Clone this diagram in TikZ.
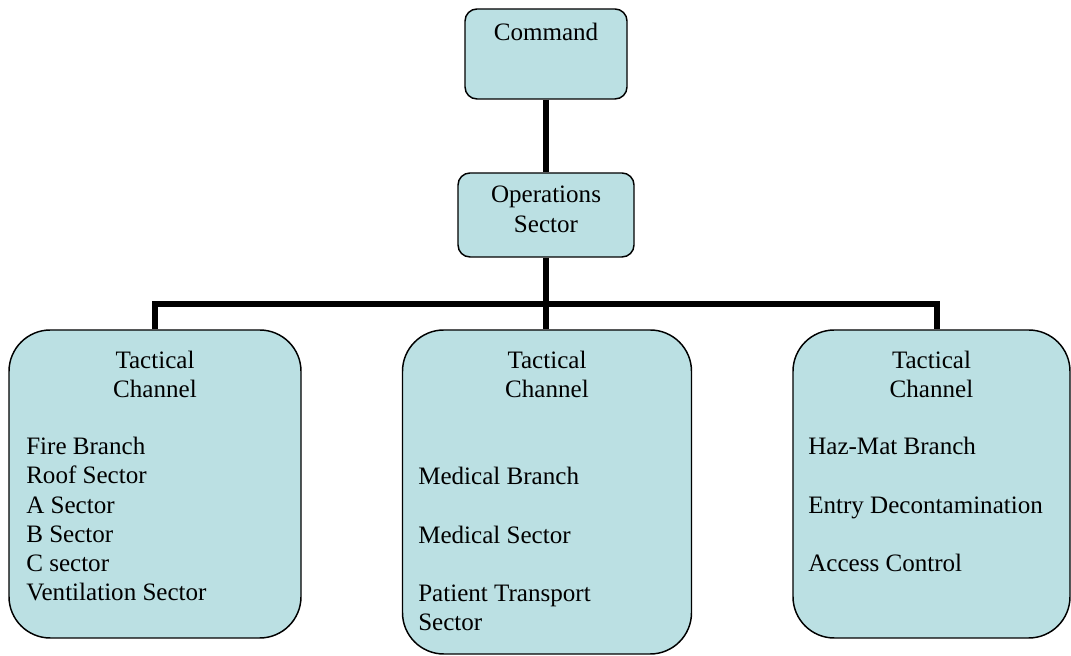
\documentclass[tikz,border=0pt]{standalone}
\usepackage{fontspec}
\setmainfont{Liberation Serif}
\usepackage{tikz}
\usepackage{xcolor}

\definecolor{boxblue}{RGB}{187,224,227}
\tikzset{
  unitbox/.style={draw=black,line width=1.1pt,fill=boxblue,rounded corners=9pt,inner sep=0pt},
  chanbox/.style={draw=black,line width=1.1pt,fill=boxblue,rounded corners=31pt,inner sep=0pt},
  lbl/.style={inner sep=0pt,font=\fontsize{18.8}{21.9}\selectfont},
  bus/.style={line width=4pt}
}

\begin{document}
\begin{tikzpicture}[x=0.75pt,y=0.75pt]
  \useasboundingbox (0,0) rectangle (1071,656);
  % top of the chart
  \node[unitbox,minimum width=121.5pt,minimum height=67.5pt] (cmd) at (546,602) {};
  \node[lbl,anchor=north] (cmdtxt) at (546,633) {Command};
  \node[unitbox,minimum width=132pt,minimum height=63pt] (ops) at (546,441) {};
  \node[lbl,anchor=north,align=center] (opstxt) at (546,470) {Operations\\Sector};
  % channel boxes
  \node[chanbox,minimum width=219pt,minimum height=231pt] (fire) at (155,172) {};
  \node[chanbox,minimum width=216.75pt,minimum height=243pt] (med) at (547,164) {};
  \node[chanbox,minimum width=207.75pt,minimum height=231pt] (haz) at (931.5,172) {};
  \node[lbl,anchor=north,align=center] (firetop) at (155,305) {Tactical\\Channel};
  \node[lbl,anchor=north,align=center] (medtop) at (547,305) {Tactical\\Channel};
  \node[lbl,anchor=north,align=center] (haztop) at (931.5,305) {Tactical\\Channel};
  \node[lbl,anchor=north west,align=left] (firelist) at (26,219)
    {Fire Branch\\Roof Sector\\A Sector\\B Sector\\C sector\\Ventilation Sector};
  \node[lbl,anchor=north west,align=left] (medlist) at (418,189)
    {Medical Branch\\[21.9pt]Medical Sector\\[21.9pt]Patient Transport\\Sector};
  \node[lbl,anchor=north west,align=left] (hazlist) at (808,219)
    {Haz-Mat Branch\\[21.9pt]Entry Decontamination\\[21.9pt]Access Control};
  % connectors
  \coordinate (busL) at (155,352);
  \coordinate (busM) at (546,352);
  \coordinate (busR) at (937,352);
  \draw[bus] (cmd.south) -- (ops.north);
  \draw[bus] (ops.south) -- (busM);
  \draw[bus] (fire.north) -- (busL) -- (busR) -- (busR |- haz.north);
  \draw[bus] (busM) -- (busM |- med.north);
\end{tikzpicture}
\end{document}
